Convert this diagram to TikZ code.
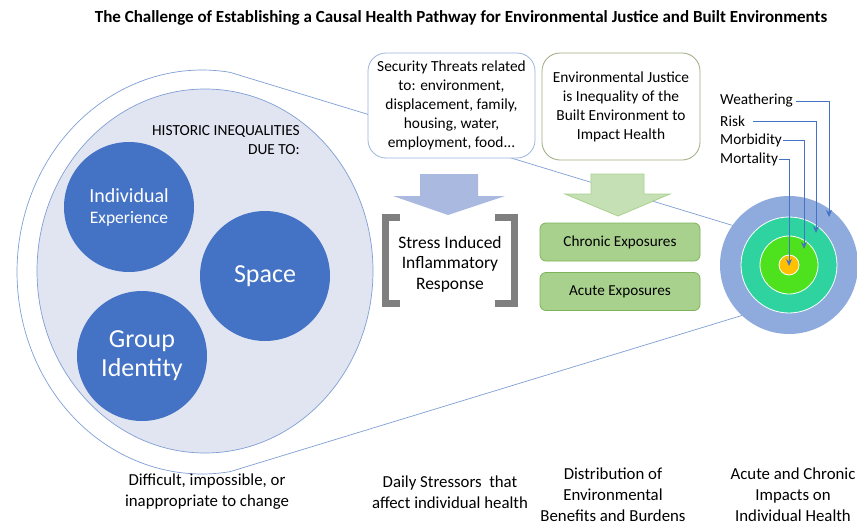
\documentclass[tikz,border=0pt]{standalone}
\usepackage{fontspec}
\setmainfont{Carlito}
\usetikzlibrary{arrows.meta}
\definecolor{dblue}{HTML}{4472C4}
\definecolor{lfill}{HTML}{E1E5F2}
\definecolor{lblue}{HTML}{7F9FD4}
\definecolor{secb}{HTML}{9DB5DF}
\definecolor{ejb}{HTML}{9DAA80}
\definecolor{barrow}{HTML}{A9B9E0}
\definecolor{garrow}{HTML}{C5E0B4}
\definecolor{garrowb}{HTML}{A9D18E}
\definecolor{expf}{HTML}{A9D18E}
\definecolor{expb}{HTML}{7FB35A}
\definecolor{brk}{HTML}{7F7F7F}
\definecolor{ring1}{HTML}{8FAADC}
\definecolor{ring2}{HTML}{2ED3A0}
\definecolor{ring3}{HTML}{4EE21E}
\definecolor{ring4}{HTML}{FFC000}
\tikzset{
  txt/.style={align=center, inner sep=0pt, font=\fontsize{15.4}{19}\selectfont},
  bottomtxt/.style={align=center, inner sep=0pt, font=\fontsize{16.8}{21}\selectfont},
  bigcirc/.style={circle, fill=dblue, minimum size=130pt, inner sep=0pt, outer sep=0pt, text=white, align=center},
  topbox/.style={draw, line width=0.8pt, rounded corners=18pt, fill=white, align=center, inner sep=0pt, font=\fontsize{15.4}{19}\selectfont},
  expbox/.style={draw=expb, line width=0.8pt, fill=expf, rounded corners=6pt, minimum width=160pt, minimum height=38pt, inner sep=0pt, font=\fontsize{15.2}{19}\selectfont},
  ring/.style={circle, draw=white, line width=0.8pt, inner sep=0pt, outer sep=0pt},
  calline/.style={draw=lblue, line width=0.7pt},
  brkline/.style={draw=brk, line width=7pt},
  lbl/.style={inner sep=0pt, anchor=west, font=\fontsize{15.3}{17}\selectfont},
  ptr/.style={draw=dblue, line width=1pt, -{Stealth[length=7pt,width=6pt]}},
}
\begin{document}
\begin{tikzpicture}[x=1pt,y=-1pt]
\useasboundingbox (0,0) rectangle (857,525);
\fill[white] (0,0) rectangle (857,525);

% title
\node[inner sep=0pt, font=\bfseries\fontsize{17}{20}\selectfont] (title) at (461,18) {The Challenge of Establishing a Causal Health Pathway for Environmental Justice and Built Environments};

% target rings
\node[ring, fill=ring1, draw=none, minimum size=138pt] (tgt) at (789,265) {};
\node[ring, fill=ring2, minimum size=96pt] (tgt2) at (789,265) {};
\node[ring, fill=ring3, minimum size=58pt] (tgt3) at (789,265) {};
\node[ring, fill=ring4, minimum size=20pt] (tgt4) at (789,265) {};

% callout outline
\draw[calline] (tgt.227.9) -- plot[domain=81.3:278.7, samples=120] ({202+185*cos(\x)}, {272+202*sin(\x)}) -- (tgt.145.6);

% inner ellipse
\draw[fill=lfill, draw=lblue, line width=0.7pt] (205,271) ellipse [x radius=168pt, y radius=182pt];

\node[txt, align=right, anchor=north east] (hist) at (300,125) {HISTORIC INEQUALITIES\\DUE TO:};

\node[bigcirc, font=\fontsize{20}{21}\selectfont] (indiv) at (129,207) {Individual\\{\fontsize{17.5}{21}\selectfont Experience}};
\node[bigcirc, font=\fontsize{26}{30}\selectfont] (space) at (265,276) {Space};
\node[bigcirc, font=\fontsize{26}{29}\selectfont] (group) at (142,356) {Group\\Identity};

% top boxes
\node[topbox, draw=secb, minimum width=167pt, minimum height=105pt] (sec) at (451.5,105.5) {Security Threats related\\to: environment,\\displacement, family,\\housing, water,\\employment, food...};
\node[topbox, draw=ejb, minimum width=158pt, minimum height=107pt] (ej) at (621,106.5) {Environmental Justice\\is Inequality of the\\Built Environment to\\Impact Health};

% block arrows
\fill[barrow] (420,174) -- (478,174) -- (478,196) -- (505,196) -- (448,215) -- (393,196) -- (420,196) -- cycle;
\filldraw[fill=garrow, draw=garrowb, line width=0.8pt] (591,174) -- (644,174) -- (644,194) -- (670,194) -- (618,216) -- (565,194) -- (591,194) -- cycle;

% brackets
\node[txt, font=\fontsize{17.5}{20.5}\selectfont] (stress) at (450,264) {Stress Induced\\Inflammatory\\Response};
\draw[brkline] (400,217.5) -- (385.5,217.5) -- (385.5,303.5) -- (400,303.5);
\draw[brkline] (495,217.5) -- (514.5,217.5) -- (514.5,303.5) -- (495,303.5);

% exposures
\node[expbox] (chronic) at (620,242) {Chronic Exposures};
\node[expbox] (acute) at (620,291.5) {Acute Exposures};

% ring labels
\node[lbl] (wea) at (720,101) {Weathering};
\node[lbl] (risk) at (720,121) {Risk};
\node[lbl] (morb) at (720,140) {Morbidity};
\node[lbl] (mort) at (720,159) {Mortality};
\coordinate (weaE) at (829,217);
\coordinate (riskE) at (816,233);
\coordinate (morbE) at (804,249);
\coordinate (mortE) at (789,266);
\draw[ptr] ([xshift=3pt]wea.east) -| (weaE);
\draw[ptr] ([xshift=8pt]risk.east) -| (riskE);
\draw[ptr] ([xshift=1pt]morb.east) -| (morbE);
\draw[ptr] ([xshift=1pt]mort.east) -| (mortE);

% bottom labels
\node[bottomtxt] (b1) at (207,492) {Difficult, impossible, or\\inappropriate to change};
\node[bottomtxt] (b2) at (450,492) {Daily Stressors\ \ that\\affect individual health};
\node[bottomtxt] (b3) at (613,495) {Distribution of\\Environmental\\Benefits and Burdens};
\node[bottomtxt] (b4) at (793,495) {Acute and Chronic\\Impacts on\\Individual Health};
\end{tikzpicture}
\end{document}
